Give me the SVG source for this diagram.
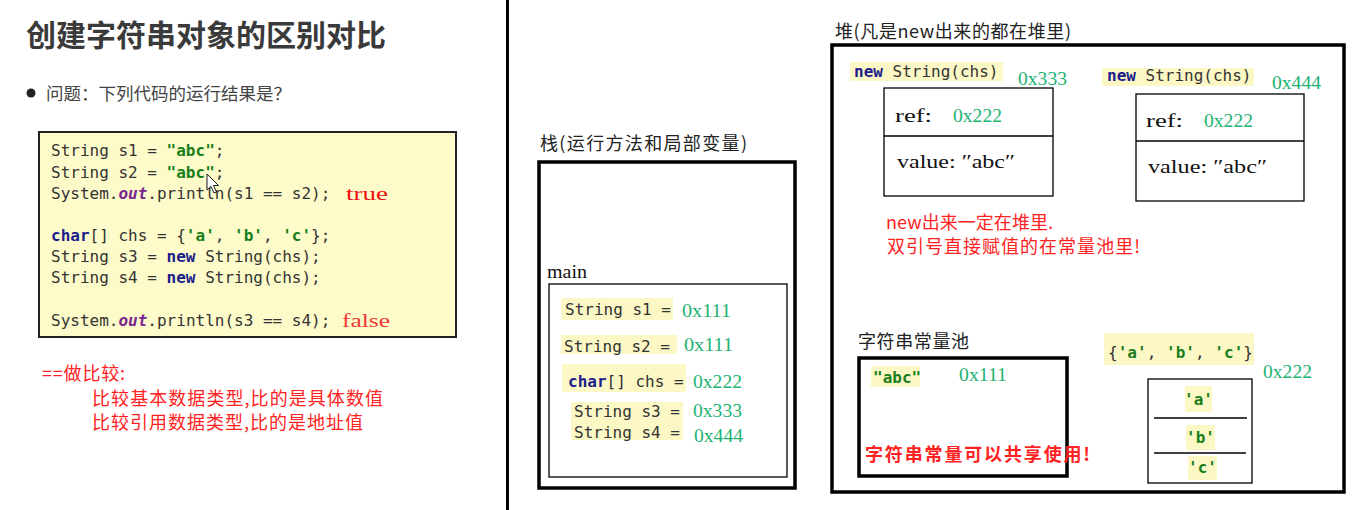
<svg xmlns="http://www.w3.org/2000/svg" width="1360" height="510" viewBox="0 0 1360 510">
<style>
.cjk{font-family:"Noto Sans CJK SC","Noto Sans",sans-serif}
.code{font-family:"DejaVu Sans Mono","Liberation Mono",monospace;font-size:16px;fill:#333}
.kw{fill:#1c1c8a;font-weight:bold}
.str{fill:#1a7d1a;font-weight:bold}
.fld{fill:#7a2690;font-style:italic;font-weight:bold}
.hex{font-family:"Liberation Serif","DejaVu Serif",serif;font-size:19px;fill:#1db373}
.ser{font-family:"Liberation Serif","DejaVu Serif","Noto Sans CJK SC",serif;font-size:19px;fill:#111}
.lbl{font-family:"Noto Sans CJK SC",sans-serif;font-size:18px;fill:#222}
.red{font-family:"Noto Sans CJK SC",sans-serif;font-size:18px;fill:#ff2222}
.hl{fill:#fcf8c6}
.thick{fill:none;stroke:#000;stroke-width:3.5}
.thin{fill:none;stroke:#000;stroke-width:1.3}
</style>
<rect width="1360" height="510" fill="#fff"/>

<g id="left-panel">
  <text x="26" y="46" class="cjk" font-size="30" font-weight="bold" fill="#3a3a3a">创建字符串对象的区别对比</text>
  <circle cx="31" cy="93" r="4.5" fill="#222"/>
  <text x="46" y="100" class="cjk" font-size="17.5" fill="#444">问题：下列代码的运行结果是？</text>
</g>

<g id="code-box">
  <rect x="39" y="132" width="417" height="205" fill="#fdfbc9" stroke="#222" stroke-width="2"/>
  <text class="code" x="51" y="156">String s1 = <tspan class="str">"abc"</tspan>;</text>
  <text class="code" x="51" y="178">String s2 = <tspan class="str">"abc"</tspan>;</text>
  <text class="code" x="51" y="199">System.<tspan class="fld">out</tspan>.println(s1 == s2);</text>
  <text class="code" x="51" y="241"><tspan class="kw">char</tspan>[] chs = {<tspan class="str">'a'</tspan>, <tspan class="str">'b'</tspan>, <tspan class="str">'c'</tspan>};</text>
  <text class="code" x="51" y="262">String s3 = <tspan class="kw">new</tspan> String(chs);</text>
  <text class="code" x="51" y="283">String s4 = <tspan class="kw">new</tspan> String(chs);</text>
  <text class="code" x="51" y="326">System.<tspan class="fld">out</tspan>.println(s3 == s4);</text>
  <text x="346" y="200" font-family="Liberation Serif,serif" font-size="19" fill="#ee1111" textLength="42" lengthAdjust="spacingAndGlyphs">true</text>
  <text x="342" y="327" font-family="Liberation Serif,serif" font-size="19" fill="#f03a3a" textLength="48" lengthAdjust="spacingAndGlyphs">false</text>
  <path d="M207,174 L207,190 L211,186.5 L214,193 L216.5,192 L213.5,185.5 L218.5,185.5 Z" fill="#fff" stroke="#000" stroke-width="0.9"/>
</g>

<g id="compare-notes">
  <text x="42" y="380" class="red" textLength="83" lengthAdjust="spacing">==做比较:</text>
  <text x="92" y="405" class="red" textLength="291" lengthAdjust="spacing">比较基本数据类型,比的是具体数值</text>
  <text x="92" y="429" class="red" textLength="271" lengthAdjust="spacing">比较引用数据类型,比的是地址值</text>
</g>

<line x1="507.5" y1="0" x2="507.5" y2="510" stroke="#000" stroke-width="3"/>

<g id="stack">
  <text x="540" y="150" class="lbl" textLength="207" lengthAdjust="spacing">栈(运行方法和局部变量)</text>
  <rect x="539" y="162" width="256" height="326" class="thick"/>
</g>

<g id="main-frame">
  <text x="547" y="278" class="ser" textLength="40" lengthAdjust="spacingAndGlyphs">main</text>
  <rect x="549" y="284" width="238" height="193" class="thin"/>
  <rect x="561" y="298" width="112" height="22" class="hl"/>
  <text class="code" x="565" y="315">String s1 =</text>
  <text class="hex" x="682" y="317" textLength="49" lengthAdjust="spacingAndGlyphs">0x111</text>
  <rect x="561" y="335" width="116" height="19" class="hl"/>
  <text class="code" x="564" y="352">String s2 =</text>
  <text class="hex" x="684" y="351" textLength="49" lengthAdjust="spacingAndGlyphs">0x111</text>
  <rect x="562" y="364" width="124" height="28" class="hl"/>
  <text class="code" x="568" y="387"><tspan class="kw">char</tspan>[] chs =</text>
  <text class="hex" x="693" y="388" textLength="49" lengthAdjust="spacingAndGlyphs">0x222</text>
  <rect x="571" y="402" width="112" height="38" class="hl"/>
  <text class="code" x="574" y="417">String s3 =</text>
  <text class="code" x="574" y="438">String s4 =</text>
  <text class="hex" x="693" y="417" textLength="49" lengthAdjust="spacingAndGlyphs">0x333</text>
  <text class="hex" x="694" y="442" textLength="49" lengthAdjust="spacingAndGlyphs">0x444</text>
</g>

<g id="heap">
  <text x="835" y="38" class="lbl" textLength="236" lengthAdjust="spacing">堆(凡是new出来的都在堆里)</text>
  <rect x="832" y="45" width="512" height="447" class="thick"/>
  <text x="886" y="229" class="red" textLength="167" lengthAdjust="spacing">new出来一定在堆里.</text>
  <text x="887" y="253" class="red" textLength="253" lengthAdjust="spacing">双引号直接赋值的在常量池里!</text>
</g>

<g id="string-obj-1">
  <rect x="850" y="62" width="153" height="19" class="hl"/>
  <text class="code" x="854" y="77"><tspan class="kw">new</tspan> String(chs)</text>
  <text class="hex" x="1018" y="85" textLength="49" lengthAdjust="spacingAndGlyphs">0x333</text>
  <rect x="884" y="88" width="169" height="108" class="thin"/>
  <line x1="884" y1="136" x2="1053" y2="136" stroke="#000" stroke-width="1.3"/>
  <text class="ser" x="895" y="122" textLength="37" lengthAdjust="spacingAndGlyphs">ref:</text>
  <text class="hex" x="953" y="122" textLength="49" lengthAdjust="spacingAndGlyphs">0x222</text>
  <text class="ser" x="897" y="168" textLength="118" lengthAdjust="spacingAndGlyphs">value: ″abc″</text>
</g>

<g id="string-obj-2">
  <rect x="1102" y="68" width="152" height="18" class="hl"/>
  <text class="code" x="1107" y="81"><tspan class="kw">new</tspan> String(chs)</text>
  <text class="hex" x="1272" y="89" textLength="49" lengthAdjust="spacingAndGlyphs">0x444</text>
  <rect x="1136" y="94" width="168" height="107" class="thin"/>
  <line x1="1136" y1="141" x2="1304" y2="141" stroke="#000" stroke-width="1.3"/>
  <text class="ser" x="1146" y="127" textLength="37" lengthAdjust="spacingAndGlyphs">ref:</text>
  <text class="hex" x="1204" y="127" textLength="49" lengthAdjust="spacingAndGlyphs">0x222</text>
  <text class="ser" x="1148" y="173" textLength="119" lengthAdjust="spacingAndGlyphs">value: ″abc″</text>
</g>

<g id="string-pool">
  <text x="858" y="348" class="lbl" textLength="111" lengthAdjust="spacing">字符串常量池</text>
  <rect x="859" y="358" width="208" height="118" class="thick"/>
  <rect x="871" y="366" width="49" height="21" class="hl"/>
  <text class="code str" x="873" y="383">"abc"</text>
  <text class="hex" x="959" y="381" textLength="48" lengthAdjust="spacingAndGlyphs">0x111</text>
  <text x="865" y="461" class="red" font-size="20" font-weight="bold" textLength="225" lengthAdjust="spacing">字符串常量可以共享使用!</text>
</g>

<g id="char-array">
  <rect x="1104" y="333" width="150" height="32" class="hl"/>
  <text class="code" x="1108" y="358" textLength="145" lengthAdjust="spacing">{<tspan class="str">'a'</tspan>, <tspan class="str">'b'</tspan>, <tspan class="str">'c'</tspan>}</text>
  <text class="hex" x="1263" y="378" textLength="49" lengthAdjust="spacingAndGlyphs">0x222</text>
  <rect x="1148" y="379" width="104" height="104" class="thin"/>
  <line x1="1154" y1="418" x2="1247" y2="418" stroke="#000" stroke-width="1.3"/>
  <line x1="1154" y1="453" x2="1246" y2="453" stroke="#000" stroke-width="1.3"/>
  <rect x="1185" y="386" width="27" height="26" class="hl"/>
  <text class="code str" x="1198.5" y="405" text-anchor="middle">'a'</text>
  <rect x="1186" y="425" width="29" height="25" class="hl"/>
  <text class="code str" x="1200.5" y="443" text-anchor="middle">'b'</text>
  <rect x="1188" y="456" width="29" height="24" class="hl"/>
  <text class="code str" x="1202.5" y="473" text-anchor="middle">'c'</text>
</g>
</svg>
